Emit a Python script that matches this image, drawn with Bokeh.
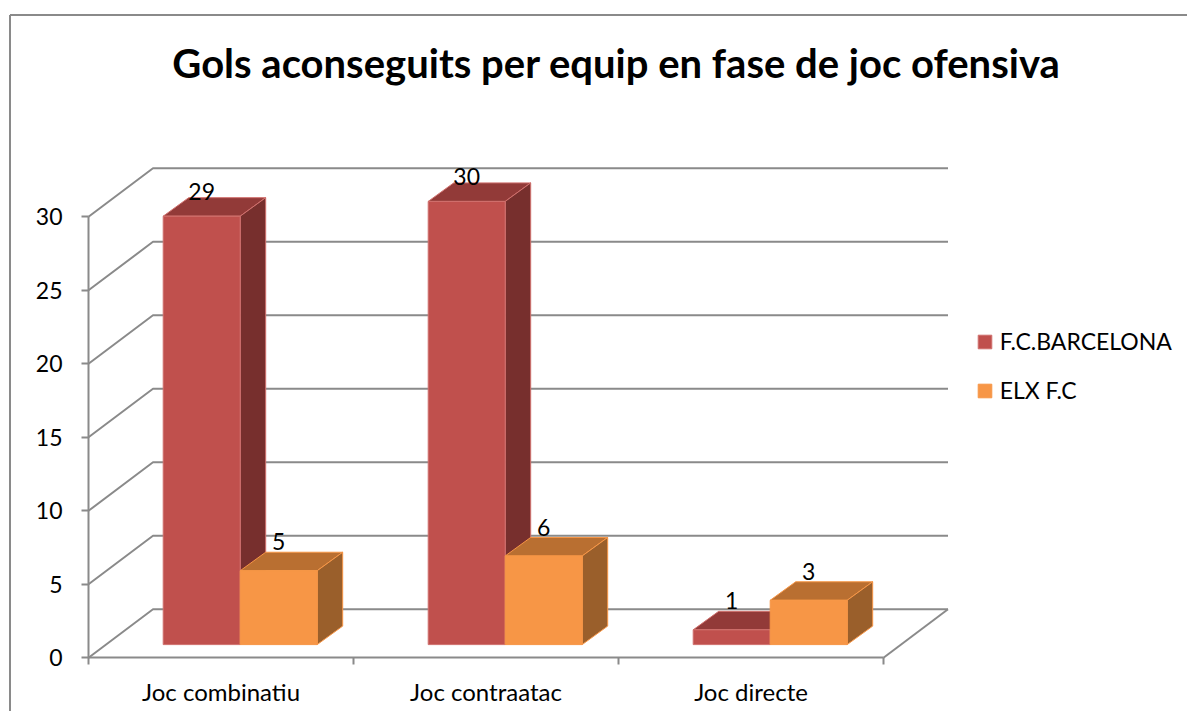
from bokeh.plotting import figure
from bokeh.embed import file_html
from bokeh.resources import INLINE
from bokeh.core.properties import value
from bokeh.models import Range1d, LinearAxis, FixedTicker, Legend, LegendItem, ColumnDataSource

# ---- data
categories = ["Joc combinatiu", "Joc contraatac", "Joc directe"]
barcelona = [29, 30, 1]
elx = [5, 6, 3]
series_names = ["F.C.BARCELONA", "ELX F.C"]
y_ticks = [0, 5, 10, 15, 20, 25, 30]
title_text = "Gols aconseguits per equip en fase de joc ofensiva"

# ---- layout (pixels of the page)
W, H = 1187, 711
PAGE = 0
X0, Y0 = 88.0, 657.3      # origin of the front axes
PX_CAT, PX_VAL = 265.0, 14.7

def dx(px): return px / PX_CAT
def dy(px): return px / PX_VAL
def X(px): return (px - X0) / PX_CAT
def Y(px): return (Y0 - px) / PX_VAL

WALL_DX, WALL_DY = dx(64.5), dy(48.5)      # depth of the chart box
BAR_DX, BAR_DY = dx(25.5), dy(18.5)        # depth of a bar
BAR_LEFT = dx(74.7)                        # first bar, from the group's edge
BAR_W = dx(77)
BAR_BASE = dy(13.2)                        # bars stand inside the floor
BAR_SCALE = 1.005

GREY = "#8a8a8a"
FONT = "Lato"
LW = 2

p = figure(width=W, height=H, output_backend="svg", toolbar_location=None,
           x_range=Range1d(X(PAGE), X(PAGE + W)), y_range=Range1d(Y(PAGE + H), Y(PAGE)),
           x_axis_type=None, y_axis_type=None, min_border=0,
           outline_line_color=None, background_fill_color="white", border_fill_color="white")
p.grid.visible = False

# outer chart border
p.line([X(9.5), X(9.5)], [Y(PAGE + H), Y(14.5)], line_color=GREY, line_width=2)
p.line([X(9.5), X(PAGE + W)], [Y(14.5), Y(14.5)], line_color=GREY, line_width=2)

# back wall and side wall gridlines
n_cat = len(categories)
for v in y_ticks:
    p.line([0, WALL_DX, n_cat + WALL_DX], [v, v + WALL_DY, v + WALL_DY],
           line_color=GREY, line_width=LW)
p.line([n_cat, n_cat + WALL_DX], [0, WALL_DY], line_color=GREY, line_width=LW)

# axes
ya = LinearAxis(fixed_location=0, ticker=FixedTicker(ticks=y_ticks), bounds=(0, max(y_ticks)))
ya.axis_line_color = GREY; ya.axis_line_width = LW
ya.major_tick_line_color = GREY; ya.major_tick_line_width = LW
ya.major_tick_out = 7; ya.major_tick_in = 0; ya.minor_tick_line_color = None
ya.major_label_standoff = 19
ya.major_label_text_font = FONT; ya.major_label_text_font_size = "23px"; ya.major_label_text_color = "black"
p.add_layout(ya, "left")

xa = LinearAxis(fixed_location=0, ticker=FixedTicker(ticks=list(range(n_cat + 1))), bounds=(0, n_cat))
xa.axis_line_color = GREY; xa.axis_line_width = LW
xa.major_tick_line_color = GREY; xa.major_tick_line_width = LW
xa.major_tick_out = 7; xa.major_tick_in = 0; xa.minor_tick_line_color = None
xa.major_label_text_font_size = "0px"; xa.major_label_text_color = None
p.add_layout(xa, "below")

xl = LinearAxis(fixed_location=0, ticker=FixedTicker(ticks=[i + 0.5 for i in range(n_cat)]),
                major_label_overrides={i + 0.5: c for i, c in enumerate(categories)})
xl.axis_line_color = None; xl.major_tick_line_color = None; xl.minor_tick_line_color = None
xl.major_label_standoff = 13
xl.major_label_text_font = FONT; xl.major_label_text_font_size = "24px"; xl.major_label_text_color = "black"
p.add_layout(xl, "below")

# bars
styles = [
    dict(vals=barcelona, front="#C0504D", top="#923A38", side="#772F2D", edge="#D0706D",
         label_lift=[-25, -25, -29]),
    dict(vals=elx, front="#F79646", top="#B96F31", side="#9A5F2B", edge="#F79646",
         label_lift=[-29, -28, -29]),
]
fronts = []
for cat in range(n_cat):
    for j, s in enumerate(styles):
        v = s["vals"][cat]
        l = cat + BAR_LEFT + j * BAR_W
        r = l + BAR_W
        b = BAR_BASE
        t = b + v * BAR_SCALE
        top = p.patch([l, r, r + BAR_DX, l + BAR_DX], [t, t, t + BAR_DY, t + BAR_DY],
                      fill_color=s["top"], line_color=s["edge"], line_width=1)
        side = p.patch([r, r + BAR_DX, r + BAR_DX, r], [b, b + BAR_DY, t + BAR_DY, t],
                       fill_color=s["side"], line_color=s["edge"], line_width=1)
        f = p.quad(left=[l], right=[r], bottom=[b], top=[t],
                   fill_color=s["front"], line_color=s["edge"], line_width=1)
        if cat == 0:
            fronts.append(f)

# data labels
for j, s in enumerate(styles):
    src = ColumnDataSource(dict(
        x=[c + BAR_LEFT + j * BAR_W + BAR_W / 2 for c in range(n_cat)],
        y=[BAR_BASE + v * BAR_SCALE for v in s["vals"]],
        t=[str(v) for v in s["vals"]],
        o=s["label_lift"]))
    p.text("x", "y", "t", source=src, text_align="center", text_baseline="middle",
           y_offset="o", text_font=value(FONT), text_font_size="23px", text_color="black")

# title
p.text([X(616)], [Y(62)], [title_text], text_align="center", text_baseline="middle",
       text_font=value(FONT), text_font_style="bold", text_font_size="40px", text_color="black")

# legend
legend = Legend(items=[LegendItem(label=n, renderers=[f]) for n, f in zip(series_names, fronts)],
                location=(975.7, 307), orientation="vertical",
                glyph_width=17, glyph_height=17, label_standoff=7, label_height=24,
                spacing=21, padding=0, margin=0,
                background_fill_alpha=0, border_line_color=None,
                label_text_font=FONT, label_text_font_size="23px", label_text_color="black",
                label_text_baseline="middle")
p.add_layout(legend)

open("out.html", "w").write(file_html(p, INLINE))
